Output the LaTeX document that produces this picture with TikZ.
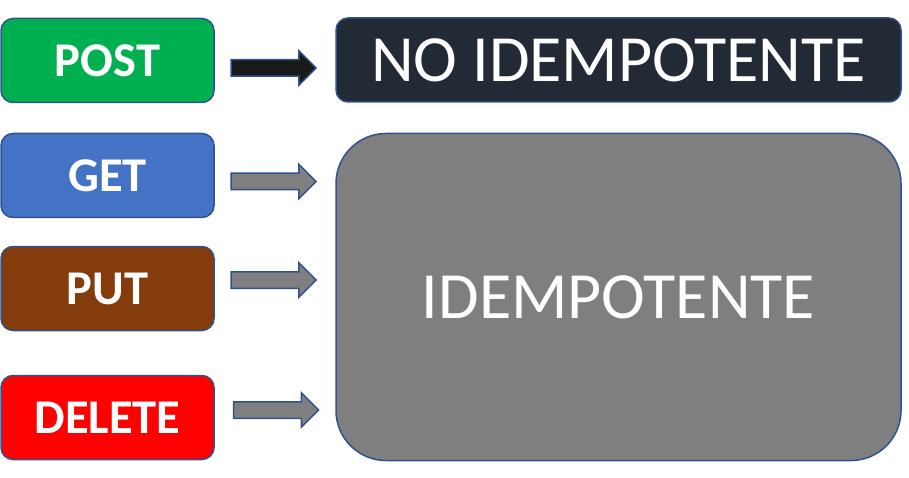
\documentclass[tikz,border=0pt]{standalone}
\usepackage{fontspec}
\setmainfont{Carlito}
\usepackage{tikz}
\usetikzlibrary{positioning}
\usetikzlibrary{shapes.arrows}
\definecolor{edgeblue}{HTML}{2F528F}
\definecolor{postgreen}{HTML}{00B050}
\definecolor{getblue}{HTML}{4472C4}
\definecolor{putbrown}{HTML}{843C0C}
\definecolor{delred}{HTML}{FF0000}
\definecolor{darkslate}{HTML}{222A35}
\definecolor{midgray}{HTML}{7F7F7F}
\tikzstyle{method} = [draw=edgeblue, line width=1.5pt, rounded corners=12pt, minimum width=213pt, minimum height=84pt, text=white, font=\fontsize{48.5}{48.5}\selectfont\bfseries]
\tikzstyle{verdict} = [draw=edgeblue, line width=1.5pt, minimum width=565pt, text=white, font=\fontsize{66}{66}\selectfont]
\tikzstyle{blockarrow} = [single arrow, draw=edgeblue, line width=1.5pt, fill=midgray, inner sep=7.5pt, single arrow head extend=9pt, minimum height=85pt]

\begin{document}
\begin{tikzpicture}[x=1pt,y=-1pt]
    \useasboundingbox (0,0) rectangle (909,478);
    \node [method, fill=postgreen] (post) at (107.5,60.5) {POST};
    \node [method, fill=getblue, below=29.5pt of post] (get) {GET};
    \node [method, fill=putbrown, below=27.5pt of get] (put) {PUT};
    \node [method, fill=delred, below=43.5pt of put] (delete) {DELETE};

    \node [verdict, fill=darkslate, rounded corners=12pt, minimum height=84pt] (noidem) at (618.5,60) {NO IDEMPOTENTE};
    \node [verdict, fill=midgray, rounded corners=50pt, minimum height=327pt, below=30pt of noidem] (idem) {IDEMPOTENTE};

    % block arrows
    \node [blockarrow, fill=black!90] (arrpost) at (269.5,68) {};
    \node [blockarrow] (arrget) at (269.5,181.5) {};
    \node [blockarrow] (arrput) at (269.5,280) {};
    \node [blockarrow] (arrdel) at (272,410) {};
\end{tikzpicture}
\end{document}
